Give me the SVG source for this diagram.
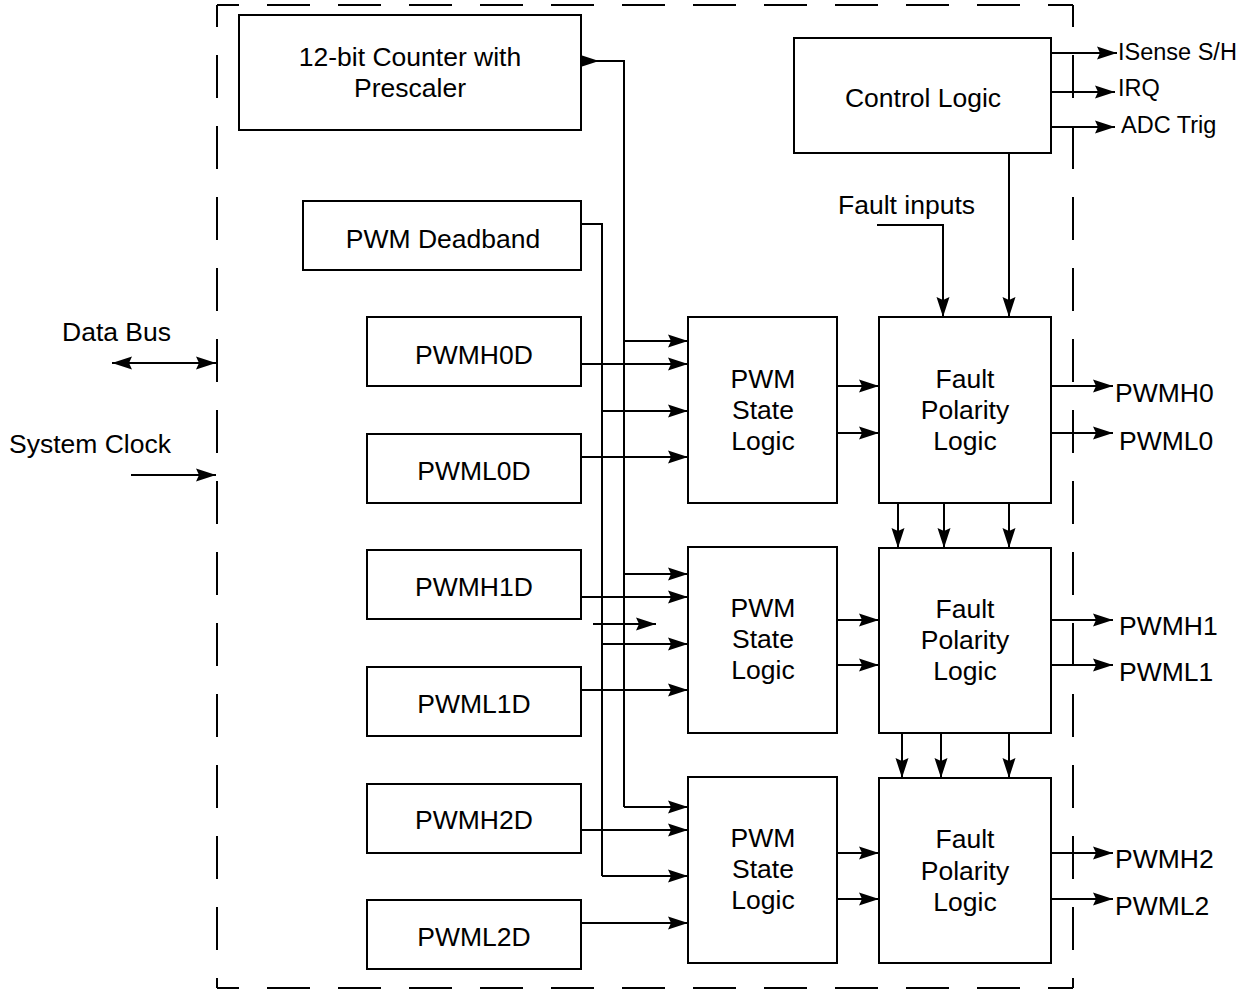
<svg xmlns="http://www.w3.org/2000/svg" width="1238" height="994" viewBox="0 0 1238 994">
<defs>
<marker id="arr" markerUnits="userSpaceOnUse" markerWidth="22" markerHeight="16" refX="20" refY="7" orient="auto-start-reverse">
<path d="M0,0.5 L20,7 L0,13.5 L3,7 z" fill="#000"/>
</marker>
</defs>
<style>
.box{fill:#fff;stroke:#000;stroke-width:2}
.ln{fill:none;stroke:#000;stroke-width:2}
.ar{fill:none;stroke:#000;stroke-width:2;marker-end:url(#arr)}
.dash{fill:none;stroke:#000;stroke-width:2;stroke-dasharray:22 28 43 28 43 28 43 28 43 28 43 28 43 28 43 28 43 28 43 28 43 28 43 28 43 28 43 28 43 28}
.t{font-family:"Liberation Sans",Arial,sans-serif;font-size:26.5px;fill:#000}
.c{text-anchor:middle}
.s{font-size:23.5px}
</style>
<rect width="1238" height="994" fill="#fff"/>
<g id="border">
<path class="dash" d="M217,5 H1073"/>
<path class="dash" d="M1073,5 V988"/>
<path class="dash" d="M217,988 H1073"/>
<path class="dash" d="M217,5 V988"/>
</g>
<g id="connectors">
<line class="ar" x1="581" y1="61" x2="599" y2="61"/>
<path class="ln" d="M599,61 H624 V807"/>
<line class="ar" x1="624" y1="341" x2="688" y2="341"/>
<line class="ar" x1="624" y1="574" x2="688" y2="574"/>
<line class="ar" x1="624" y1="807" x2="688" y2="807"/>
<path class="ln" d="M581,224 H602 V876"/>
<line class="ar" x1="602" y1="411" x2="688" y2="411"/>
<line class="ar" x1="602" y1="644" x2="688" y2="644"/>
<line class="ar" x1="602" y1="876" x2="688" y2="876"/>
<line class="ar" x1="581" y1="364" x2="688" y2="364"/>
<line class="ar" x1="581" y1="457" x2="688" y2="457"/>
<line class="ar" x1="581" y1="597" x2="688" y2="597"/>
<line class="ar" x1="593" y1="624" x2="656" y2="624"/>
<line class="ar" x1="581" y1="690" x2="688" y2="690"/>
<line class="ar" x1="581" y1="830" x2="688" y2="830"/>
<line class="ar" x1="581" y1="923" x2="688" y2="923"/>
<line class="ar" x1="837" y1="386" x2="879" y2="386"/>
<line class="ar" x1="837" y1="433" x2="879" y2="433"/>
<line class="ar" x1="837" y1="620" x2="879" y2="620"/>
<line class="ar" x1="837" y1="665" x2="879" y2="665"/>
<line class="ar" x1="837" y1="853" x2="879" y2="853"/>
<line class="ar" x1="837" y1="899" x2="879" y2="899"/>
<line class="ar" x1="1051" y1="386" x2="1113" y2="386"/>
<line class="ar" x1="1051" y1="433" x2="1113" y2="433"/>
<line class="ar" x1="1051" y1="620" x2="1113" y2="620"/>
<line class="ar" x1="1051" y1="665" x2="1113" y2="665"/>
<line class="ar" x1="1051" y1="853" x2="1113" y2="853"/>
<line class="ar" x1="1051" y1="899" x2="1113" y2="899"/>
<line class="ar" x1="898" y1="503" x2="898" y2="548"/>
<line class="ar" x1="944" y1="503" x2="944" y2="548"/>
<line class="ar" x1="1009" y1="503" x2="1009" y2="548"/>
<line class="ar" x1="902" y1="733" x2="902" y2="778"/>
<line class="ar" x1="941" y1="733" x2="941" y2="778"/>
<line class="ar" x1="1009" y1="733" x2="1009" y2="778"/>
<path class="ar" d="M877,225 H943 V317"/>
<line class="ar" x1="1009" y1="153" x2="1009" y2="317"/>
<line class="ar" x1="1051" y1="53" x2="1117" y2="53"/>
<line class="ar" x1="1051" y1="92" x2="1115" y2="92"/>
<line class="ar" x1="1051" y1="127" x2="1115" y2="127"/>
<line class="ar" x1="112" y1="363" x2="216" y2="363" style="marker-start:url(#arr)"/>
<line class="ar" x1="131" y1="475" x2="216" y2="475"/>
</g>
<g id="counter"><rect class="box" x="239" y="15" width="342" height="115"/><text class="t c" x="410" y="66">12-bit Counter with</text><text class="t c" x="410" y="97">Prescaler</text></g>
<g id="control"><rect class="box" x="794" y="38" width="257" height="115"/><text class="t c" x="923" y="107">Control Logic</text></g>
<g id="deadband"><rect class="box" x="303" y="201" width="278" height="69"/><text class="t c" x="443" y="248">PWM Deadband</text></g>
<g id="pwmh0d"><rect class="box" x="367" y="317" width="214" height="69"/><text class="t c" x="474" y="364">PWMH0D</text></g>
<g id="pwml0d"><rect class="box" x="367" y="434" width="214" height="69"/><text class="t c" x="474" y="480">PWML0D</text></g>
<g id="pwmh1d"><rect class="box" x="367" y="550" width="214" height="69"/><text class="t c" x="474" y="596">PWMH1D</text></g>
<g id="pwml1d"><rect class="box" x="367" y="667" width="214" height="69"/><text class="t c" x="474" y="713">PWML1D</text></g>
<g id="pwmh2d"><rect class="box" x="367" y="784" width="214" height="69"/><text class="t c" x="474" y="829">PWMH2D</text></g>
<g id="pwml2d"><rect class="box" x="367" y="900" width="214" height="69"/><text class="t c" x="474" y="946">PWML2D</text></g>
<g id="state0"><rect class="box" x="688" y="317" width="149" height="186"/><text class="t c" x="763" y="388">PWM</text><text class="t c" x="763" y="419">State</text><text class="t c" x="763" y="450">Logic</text></g>
<g id="state1"><rect class="box" x="688" y="547" width="149" height="186"/><text class="t c" x="763" y="617">PWM</text><text class="t c" x="763" y="648">State</text><text class="t c" x="763" y="679">Logic</text></g>
<g id="state2"><rect class="box" x="688" y="777" width="149" height="186"/><text class="t c" x="763" y="847">PWM</text><text class="t c" x="763" y="878">State</text><text class="t c" x="763" y="909">Logic</text></g>
<g id="fault0"><rect class="box" x="879" y="317" width="172" height="186"/><text class="t c" x="965" y="388">Fault</text><text class="t c" x="965" y="419">Polarity</text><text class="t c" x="965" y="450">Logic</text></g>
<g id="fault1"><rect class="box" x="879" y="548" width="172" height="185"/><text class="t c" x="965" y="618">Fault</text><text class="t c" x="965" y="649">Polarity</text><text class="t c" x="965" y="680">Logic</text></g>
<g id="fault2"><rect class="box" x="879" y="778" width="172" height="185"/><text class="t c" x="965" y="848">Fault</text><text class="t c" x="965" y="880">Polarity</text><text class="t c" x="965" y="911">Logic</text></g>
<g id="labels">
<text class="t" x="838" y="214">Fault inputs</text>
<text class="t" x="62" y="341">Data Bus</text>
<text class="t" x="9" y="453">System Clock</text>
<text class="t s" x="1118" y="60">ISense S/H</text>
<text class="t s" x="1118" y="96">IRQ</text>
<text class="t s" x="1121" y="133">ADC Trig</text>
<text class="t" x="1115" y="402">PWMH0</text>
<text class="t" x="1119" y="450">PWML0</text>
<text class="t" x="1119" y="635">PWMH1</text>
<text class="t" x="1119" y="681">PWML1</text>
<text class="t" x="1115" y="868">PWMH2</text>
<text class="t" x="1115" y="915">PWML2</text>
</g>
</svg>
